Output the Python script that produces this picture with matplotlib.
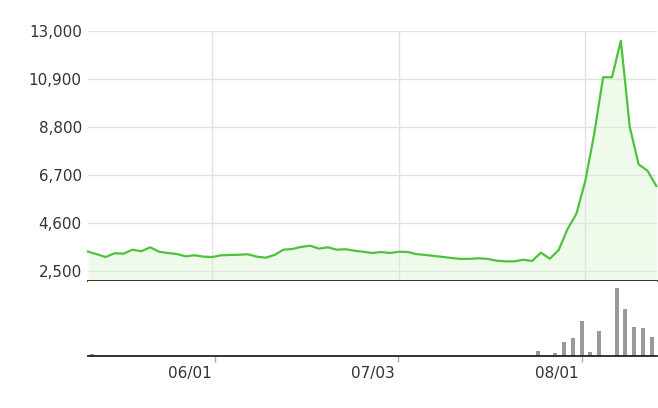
import matplotlib.pyplot as plt
import matplotlib.transforms as mtransforms

# daily series, one value per trading day
price = [3360, 3245, 3125, 3290, 3270, 3445, 3375, 3550, 3355, 3300,
         3255, 3155, 3200, 3140, 3125, 3200, 3215, 3225, 3245, 3140,
         3095, 3215, 3445, 3475, 3565, 3620, 3490, 3550, 3445, 3465,
         3400, 3355, 3300, 3345, 3300, 3355, 3345, 3250, 3215, 3170,
         3125, 3080, 3040, 3045, 3070, 3040, 2965, 2935, 2935, 3005,
         2950, 3315, 3050, 3430, 4350, 5020, 6465, 8505, 10990, 10990,
         12590, 8825, 7180, 6900, 6230]

volume = [2, 0, 0, 0, 0, 1, 0, 1, 1, 0,
          0, 0, 0, 0, 0, 0, 0, 0, 0, 0,
          0, 0, 1, 0, 0, 0, 0, 0, 0, 0,
          0, 0, 0, 0, 0, 0, 0, 0, 0, 0,
          0, 0, 0, 0, 0, 0, 0, 0, 0, 0,
          0, 5, 1, 3, 14, 18, 35, 4, 25, 0,
          68, 47, 29, 28, 19]

yticks = [2500, 4600, 6700, 8800, 10900, 13000]
date_pos = [14, 35, 56]
date_labels = ["06/01", "07/03", "08/01"]

LINE = "#4ec23d"
GRID = "#e2e2e2"
TEXT = "#333333"

fig = plt.figure(figsize=(6.58, 4.08), dpi=100)
W, H = 658.0, 408.0
left = 88 / W
width = 569 / W

# top panel ends at the 13,000 line
ax = fig.add_axes([left, (H - 281.3) / H, width, (281.3 - 31.3) / H])
x = list(range(len(price)))
ax.fill_between(x, price, 2000, color="#5ee040", alpha=0.1, lw=0, zorder=1)
ax.plot(x, price, color=LINE, lw=1.6, zorder=3, clip_on=False)
ax.set_xlim(0, 64.07)
ax.set_ylim(2062, 13000)
ax.set_yticks(yticks)
ax.set_yticklabels(["{:,}".format(v) for v in yticks])
ax.set_xticks(date_pos)
ax.set_xticklabels([])
ax.grid(True, color=GRID, lw=1, zorder=2)
ax.set_axisbelow(False)
ax.tick_params(axis="both", length=0, colors=TEXT, labelsize=10.9, pad=4.5)
for s in ["top", "right", "left"]:
    ax.spines[s].set_visible(False)
ax.spines["bottom"].set_color("#222222")
ax.spines["bottom"].set_linewidth(1.3)
ax.spines["bottom"].set_zorder(4)

bx = fig.add_axes([left, (H - 356) / H, width, (356 - 281.3) / H])
bx.bar(range(len(volume)), volume, width=0.46, color="#999999")
bx.set_xlim(-0.5, 64.62)
bx.set_ylim(0, 74.7)
bx.set_yticks([])
bx.set_xticks(date_pos)
bx.set_xticklabels(date_labels, ha="right")
bx.tick_params(axis="x", length=4, width=1, color="#aaaaaa", labelcolor=TEXT,
               labelsize=11, pad=3.5)
shift = mtransforms.ScaledTranslation(-3 / 100, 0, fig.dpi_scale_trans)
for lab in bx.get_xticklabels():
    lab.set_transform(lab.get_transform() + shift)
for s in ["top", "right", "left"]:
    bx.spines[s].set_visible(False)
bx.spines["bottom"].set_color("#222222")
bx.spines["bottom"].set_linewidth(1.3)

plt.savefig("out.png", dpi=100)
